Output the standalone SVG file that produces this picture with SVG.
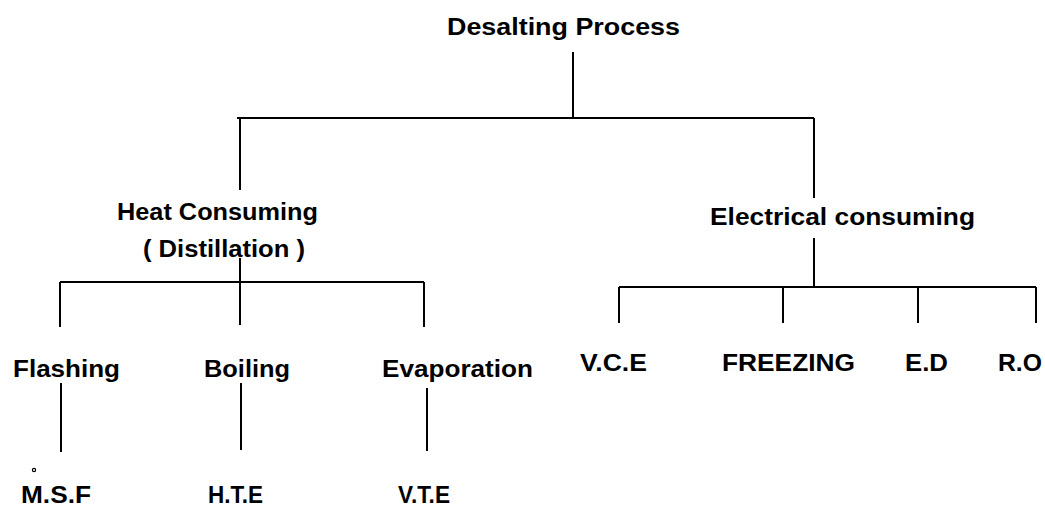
<svg xmlns="http://www.w3.org/2000/svg" width="1045" height="508" viewBox="0 0 1045 508">
<style>
text{font-family:"Liberation Sans",Arial,sans-serif;font-weight:bold;font-size:23px;fill:#000}
.c line{stroke:#000;stroke-width:2;fill:none}
</style>
<rect width="1045" height="508" fill="#fff"/>
<g class="c" id="connectors">
<line x1="573" y1="52" x2="573" y2="118"/>
<line x1="237" y1="118" x2="814" y2="118"/>
<line x1="240" y1="118" x2="240" y2="190"/>
<line x1="814" y1="118" x2="814" y2="198"/>
<line x1="240" y1="258" x2="240" y2="325"/>
<line x1="60" y1="282" x2="424" y2="282"/>
<line x1="60" y1="282" x2="60" y2="327"/>
<line x1="424" y1="282" x2="424" y2="327"/>
<line x1="814" y1="238" x2="814" y2="287"/>
<line x1="619" y1="287" x2="1036" y2="287"/>
<line x1="619" y1="287" x2="619" y2="323"/>
<line x1="783" y1="287" x2="783" y2="323"/>
<line x1="918" y1="287" x2="918" y2="323"/>
<line x1="1036" y1="287" x2="1036" y2="323"/>
<line x1="61" y1="383" x2="61" y2="452"/>
<line x1="241" y1="383" x2="241" y2="450"/>
<line x1="427" y1="388" x2="427" y2="451"/>
</g>
<g id="n-desalting"><text x="447" y="35" textLength="233" lengthAdjust="spacingAndGlyphs">Desalting Process</text></g>
<g id="n-heat"><text x="117" y="220" textLength="201" lengthAdjust="spacingAndGlyphs">Heat Consuming</text><text x="143" y="257" textLength="162" lengthAdjust="spacingAndGlyphs">( Distillation )</text></g>
<g id="n-electrical"><text x="710" y="225" textLength="265" lengthAdjust="spacingAndGlyphs">Electrical consuming</text></g>
<g id="n-flashing"><text x="13" y="377" textLength="107" lengthAdjust="spacingAndGlyphs">Flashing</text></g>
<g id="n-boiling"><text x="204" y="377" textLength="86" lengthAdjust="spacingAndGlyphs">Boiling</text></g>
<g id="n-evaporation"><text x="382" y="377" textLength="151" lengthAdjust="spacingAndGlyphs">Evaporation</text></g>
<g id="n-vce"><text x="580" y="371" textLength="67" lengthAdjust="spacingAndGlyphs">V.C.E</text></g>
<g id="n-freezing"><text x="722" y="371" textLength="133" lengthAdjust="spacingAndGlyphs">FREEZING</text></g>
<g id="n-ed"><text x="905" y="371" textLength="43" lengthAdjust="spacingAndGlyphs">E.D</text></g>
<g id="n-ro"><text x="998" y="371" textLength="44" lengthAdjust="spacingAndGlyphs">R.O</text></g>
<g id="n-msf"><circle cx="34" cy="470" r="1.6" fill="none" stroke="#000" stroke-width="1.2"/><text x="21" y="503" textLength="70" lengthAdjust="spacingAndGlyphs">M.S.F</text></g>
<g id="n-hte"><text x="208" y="503" textLength="55" lengthAdjust="spacingAndGlyphs">H.T.E</text></g>
<g id="n-vte"><text x="398" y="503" textLength="52" lengthAdjust="spacingAndGlyphs">V.T.E</text></g>
</svg>
